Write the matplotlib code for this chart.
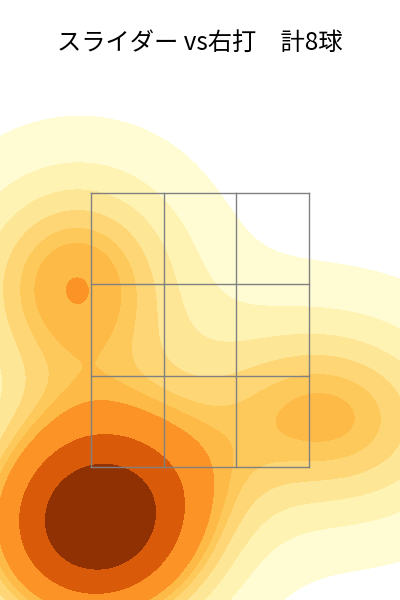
import matplotlib
matplotlib.use("Agg")
import matplotlib.pyplot as plt
import seaborn as sns
import numpy as np

plt.rcParams['font.family'] = ['Noto Sans CJK JP', 'DejaVu Sans']

# 投球位置 (x: 横, z: 高さ) 8球
plate_x = [-0.85, -0.78, -0.75, -0.60, -0.93, -0.90, 0.60, 1.30]
plate_z = [1.05, 1.15, 1.00, 1.25, 2.60, 3.08, 1.95, 1.80]

zone_x = [-0.8, -0.8 / 3, 0.8 / 3, 0.8]
zone_z = [1.5, 1.5 + 2 / 3, 1.5 + 4 / 3, 3.5]

fig = plt.figure(figsize=(4, 6), dpi=100)
ax = fig.add_axes([0, 0, 1, 1])
sns.kdeplot(x=plate_x, y=plate_z, fill=True, cmap='YlOrBr', ax=ax)

for x in zone_x:
    ax.plot([x, x], [zone_z[0], zone_z[-1]], color='grey', lw=1)
for z in zone_z:
    ax.plot([zone_x[0], zone_x[-1]], [z, z], color='grey', lw=1)

ax.set_xlim(-1.47, 1.47)
ax.set_ylim(0.53, 4.91)
ax.axis('off')
fig.text(0.5, 0.928, 'スライダー vs右打　計8球', ha='center', va='center', fontsize=17.5)

fig.savefig('out.png')
